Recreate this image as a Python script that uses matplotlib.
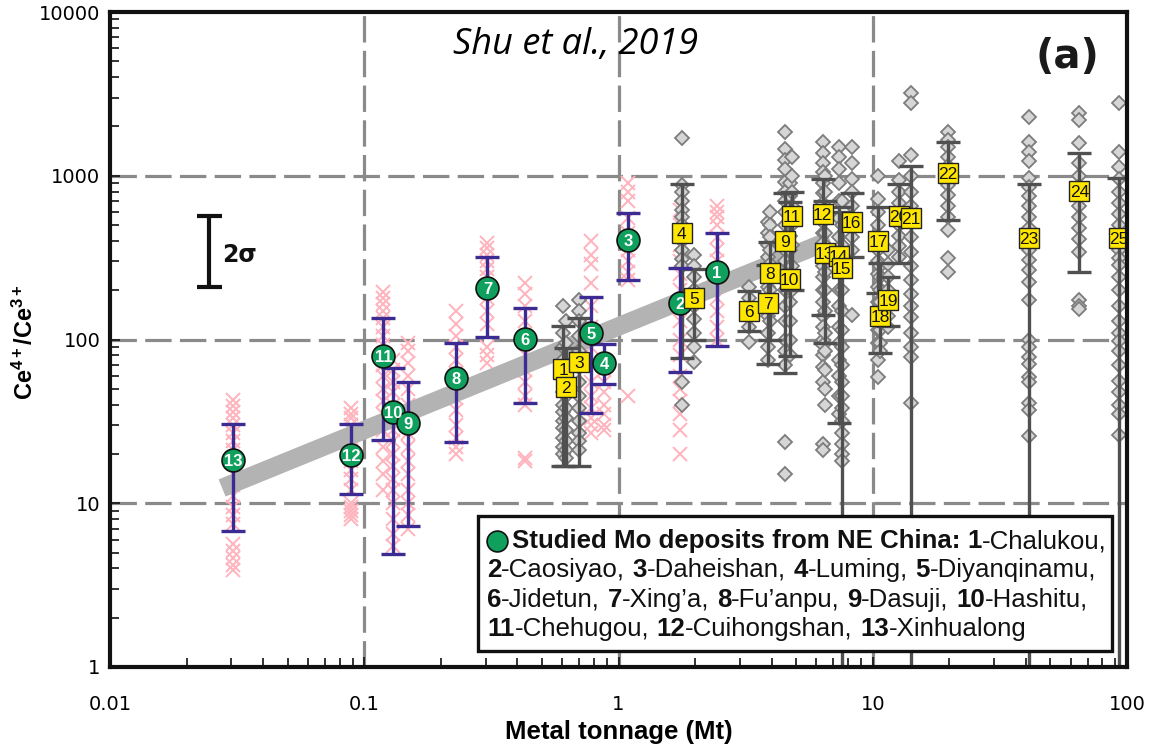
import matplotlib
matplotlib.use("Agg")
import numpy as np
import matplotlib.pyplot as plt
from matplotlib.transforms import IdentityTransform
from matplotlib.patches import Rectangle
from matplotlib.lines import Line2D

plt.rcParams['lines.scale_dashes'] = False
plt.rcParams['mathtext.fontset'] = 'custom'
plt.rcParams['mathtext.rm'] = 'Liberation Sans:bold'
plt.rcParams['mathtext.bf'] = 'Liberation Sans:bold'
plt.rcParams['mathtext.it'] = 'Liberation Sans:bold'
plt.rcParams['mathtext.default'] = 'bf'

# ---------------- studied Mo deposits, NE China (green) ----------------
ne_ids = [13, 12, 11, 10, 9, 8, 7, 6, 5, 4, 3, 2, 1]
ne_tonnage = [0.0305, 0.089, 0.119, 0.130, 0.149, 0.230, 0.305, 0.43, 0.78, 0.88, 1.09, 1.75, 2.43]
ne_mean = [18.5, 19.7, 79, 36, 31, 58, 206, 101, 109, 72, 405, 167, 258]
ne_low = [6.8, 11.4, 24.3, 4.9, 7.3, 23.7, 104, 41, 35.6, 53.5, 231, 63, 91]
ne_high = [30.5, 30.5, 135, 67, 55, 95, 319, 155, 182, 94, 593, 273, 447]

# individual zircon analyses per studied deposit
ne_s13 = [43, 39, 36, 33, 30, 27, 24, 21, 18, 15, 13, 11, 9.5, 8.5, 7.5, 5.6, 5.1, 4.6, 4.2, 3.9]
ne_s12 = [38, 35, 33, 30, 28, 25, 22, 20, 18, 16, 14, 12, 10, 9.5, 9, 8.5, 8]
ne_s11 = [195, 180, 165, 150, 135, 120, 105, 92, 80, 70, 60, 50, 42, 35, 28, 22, 18, 15, 12]
ne_s10 = [75, 65, 55, 48, 40, 34, 28, 24, 20, 17, 14, 12, 10, 8, 6.5, 5.5]
ne_s9 = [95, 85, 72, 60, 50, 40, 33, 27, 22, 18, 15, 12, 10, 8.5, 7]
ne_s8 = [150, 125, 105, 90, 75, 62, 52, 44, 37, 30, 25, 22, 20]
ne_s7 = [390, 360, 330, 300, 270, 240, 210, 180, 150, 125, 90, 80, 72]
ne_s6 = [220, 190, 160, 130, 100, 80, 65, 55, 45, 40, 19, 18]
ne_s5 = [400, 330, 290, 220, 160, 120, 90, 70, 55, 45, 38, 33, 30, 27]
ne_s4 = [65, 55, 48, 40, 35, 30, 28]
ne_s3 = [900, 800, 700, 550, 450, 350, 300, 260, 230, 45]
ne_s2 = [620, 500, 380, 300, 250, 200, 160, 130, 100, 80, 60, 50, 42, 35, 28, 20]
ne_s1 = [650, 600, 560, 500, 420, 350, 300, 260, 220, 180, 150, 120, 100]
ne_samples = [ne_s13, ne_s12, ne_s11, ne_s10, ne_s9, ne_s8, ne_s7,
              ne_s6, ne_s5, ne_s4, ne_s3, ne_s2, ne_s1]

# ---------------- reference porphyry Mo deposits (yellow) ----------------
ref_ids = list(range(1, 26))
ref_tonnage = [0.607, 0.62, 0.70, 1.77, 1.99, 3.25, 3.86, 3.96, 4.5, 4.71, 4.8, 6.35, 6.47,
               7.35, 7.55, 8.26, 10.5, 10.7, 11.5, 12.7, 14.1, 19.7, 41, 65, 93]
ref_mean = [66, 51, 73, 447, 179, 149, 167, 255, 400, 234, 568, 584, 337,
            324, 273, 522, 399, 139, 174, 568, 552, 1040, 417, 807, 417]
ref_low = [17, 17, 17, 77, 100, 113, 71, 100, 62, 79, 200, 141, 95,
           31, 0.3, 318, 192, 83, 121, 293, 0.3, 537, 0.3, 258, 0.3]
ref_high = [121, 89, 136, 890, 270, 198, 285, 394, 785, 690, 800, 955, 700,
            645, 600, 785, 645, 293, 241, 890, 1150, 1600, 890, 1380, 970]

ref_s1 = [160, 110, 90, 75, 60, 48, 40, 36, 32, 29, 25, 22, 20]
ref_s2 = [130, 95, 70, 55, 45, 38, 33, 28, 24, 21, 19]
ref_s3 = [175, 150, 130, 105, 85, 68, 55, 45, 38, 32, 27, 24, 21]
ref_s4 = [1700, 880, 800, 700, 620, 560, 500, 450, 400, 350, 310, 280, 55, 40]
ref_s5 = [330, 280, 240, 200, 160, 134, 110, 90, 73]
ref_s6 = [210, 180, 150, 120, 96]
ref_s7 = [520, 450, 380, 320, 260, 210, 170, 140, 110, 90, 75]
ref_s8 = [600, 500, 420, 350, 290, 240, 200, 160, 130]
ref_s9 = [1850, 1450, 1250, 1100, 920, 800, 700, 600, 500, 420, 350, 300, 250, 200,
          160, 130, 100, 85, 70, 23.5, 15]
ref_s10 = [900, 750, 620, 520, 430, 350, 280, 220, 170, 130, 100, 80]
ref_s11 = [1300, 1000, 800, 650, 500, 380, 280, 200]
ref_s12 = [1600, 1380, 1200, 1050, 900, 780, 680, 600, 520, 450, 390, 330, 280, 240,
           200, 170, 140, 119, 100, 92, 80, 68, 55, 23, 21]
ref_s13 = [1000, 800, 600, 450, 350, 260, 200, 150, 110, 85, 65, 50, 40]
ref_s14 = [1500, 1300, 1100, 900, 700, 550, 420, 330, 260, 200, 160, 120, 95, 75, 60, 45, 35]
ref_s15 = [700, 500, 380, 270, 200, 150, 115, 90, 70, 55, 45, 38, 32, 27, 23, 20, 18]
ref_s16 = [1500, 1200, 950, 800, 650, 520, 420, 350, 141]
ref_s17 = [1000, 720, 600, 500, 420, 350, 300, 250, 210, 170, 140, 115, 95, 75, 59]
ref_s18 = [280, 240, 200, 170, 140, 115, 95, 85]
ref_s19 = [350, 290, 240, 200, 170, 140, 120]
ref_s20 = [1230, 940, 800, 680, 580, 500, 430, 370, 320]
ref_s21 = [3200, 2800, 1340, 1000, 800, 650, 520, 420, 340, 280, 230, 190, 160, 137,
           110, 90, 78, 41]
ref_s22 = [1850, 1650, 1500, 1300, 1150, 1000, 880, 760, 650, 560, 465, 315, 258]
ref_s23 = [2270, 1600, 1400, 1230, 970, 850, 750, 650, 560, 480, 410, 350, 305, 265,
           225, 175, 99, 90, 78, 71, 59, 55, 41, 37, 25.6]
ref_s24 = [2400, 2200, 1580, 1200, 1000, 870, 750, 650, 560, 480, 410, 340, 175, 160, 154]
ref_s25 = [2780, 1400, 1130, 950, 800, 680, 580, 500, 420, 350, 315, 285, 240, 200,
           160, 130, 110, 98, 85, 70, 56, 48, 40, 35, 26]
ref_samples = [ref_s1, ref_s2, ref_s3, ref_s4, ref_s5, ref_s6, ref_s7, ref_s8, ref_s9,
               ref_s10, ref_s11, ref_s12, ref_s13, ref_s14, ref_s15, ref_s16, ref_s17,
               ref_s18, ref_s19, ref_s20, ref_s21, ref_s22, ref_s23, ref_s24, ref_s25]

# regression trend (gray band) end points
trend_x = [0.0276, 6.8]
trend_y = [12.4, 404]

# analytical uncertainty bar (2 sigma)
sigma_x = 0.0246
sigma_range = [209, 568]

x_ticks = [0.01, 0.1, 1, 10, 100]
x_ticklabels = ['0.01', '0.1', '1', '10', '100']
y_ticks = [1, 10, 100, 1000, 10000]
y_ticklabels = ['1', '10', '100', '1000', '10000']

legend_title = "Studied Mo deposits from NE China:"
legend_names = ["Chalukou", "Caosiyao", "Daheishan", "Luming", "Diyanqinamu",
                "Jidetun", "Xing\u2019a", "Fu\u2019anpu", "Dasuji", "Hashitu",
                "Chehugou", "Cuihongshan", "Xinhualong"]

# ---------------- figure ----------------
W, H = 1158, 746
fig = plt.figure(figsize=(W / 100, H / 100), dpi=100)
ax = fig.add_axes([110 / W, 79 / H, 1017 / W, 655 / H])
ax.set_xscale('log')
ax.set_yscale('log')
ax.set_xlim(0.01, 100)
ax.set_ylim(1, 10000)

grid_kw = dict(color='#8a8a8a', lw=2.3, linestyle=(0, (19, 6)), zorder=1)
for gx in [0.1, 1, 10]:
    ax.axvline(gx, **grid_kw)
for gy in [10, 100, 1000]:
    ax.axhline(gy, **grid_kw)

pink = '#ffb3bd'
for x, s in zip(ne_tonnage, ne_samples):
    ax.plot([x] * len(s), s, 'x', ms=9.5, mew=1.4, color=pink, zorder=2)

ax.plot(trend_x, trend_y, color='#b3b3b3', lw=13.3, solid_capstyle='butt', zorder=3)

for x, s in zip(ref_tonnage, ref_samples):
    ax.plot([x] * len(s), s, 'D', ms=7, mfc='#d6d6d6', mec='#7c7c7c', mew=1.3, zorder=4)

for x, m, lo, hi in zip(ref_tonnage, ref_mean, ref_low, ref_high):
    ax.errorbar([x], [m], yerr=[[m - lo], [hi - m]], fmt='none', ecolor='#505050',
                elinewidth=2.4, capsize=8.5, capthick=2.4, zorder=5)

for x, m, lo, hi in zip(ne_tonnage, ne_mean, ne_low, ne_high):
    ax.errorbar([x], [m], yerr=[[m - lo], [hi - m]], fmt='none', ecolor='#3d2b94',
                elinewidth=2.4, capsize=8.5, capthick=2.4, zorder=6)

ax.plot(ne_tonnage, ne_mean, 'o', ms=16.5, mfc='#10a05e', mec='#111111', mew=1.2, zorder=7)
for i, x, m in zip(ne_ids, ne_tonnage, ne_mean):
    ax.text(x, m, str(i), color='white', fontsize=12, fontweight='bold',
            family='Liberation Sans', ha='center', va='center_baseline', zorder=8)

for k, (i, x, m) in enumerate(zip(ref_ids, ref_tonnage, ref_mean)):
    ax.plot([x], [m], 's', ms=14.4, mfc='#ffe600', mec='#222222', mew=1.0, zorder=9 + 0.01 * k)
    ax.text(x, m, str(i), color='#111111', fontsize=12.5, family='Liberation Sans',
            ha='center', va='center_baseline', zorder=9.005 + 0.01 * k, clip_on=True)

# 2 sigma bar
sm = np.sqrt(sigma_range[0] * sigma_range[1])
ax.errorbar([sigma_x], [sm], yerr=[[sm - sigma_range[0]], [sigma_range[1] - sm]],
            fmt='none', ecolor='#111111', elinewidth=3, capsize=9, capthick=3, zorder=6)
ax.text(0.0322, 330, '2\u03c3', fontsize=17, fontweight='bold', family='DejaVu Sans',
        ha='center', va='center', color='#111111')

# annotations
ax.text(0.458, 0.9496, 'Shu et al., 2019', transform=ax.transAxes, fontsize=26,
        family='Open Sans', style='italic', ha='center', va='center', color='black')
ax.text(0.941, 0.931, '(a)', transform=ax.transAxes, fontsize=29, fontweight='bold',
        family='DejaVu Sans', ha='center', va='center', color='#1a1a1a')

# axes styling
for sp in ax.spines.values():
    sp.set_linewidth(3)
    sp.set_color('#111111')
    sp.set_zorder(20)
ax.set_xticks(x_ticks, labels=x_ticklabels)
ax.set_yticks(y_ticks, labels=y_ticklabels)
ax.tick_params(which='both', direction='in', top=False, right=False, width=1.2,
               color='#111111')
ax.tick_params(which='major', length=7)
ax.tick_params(which='minor', length=6.5)
ax.tick_params(axis='x', which='major', pad=20, labelsize=14)
ax.tick_params(axis='y', which='major', pad=7, labelsize=14)
for lab in ax.get_xticklabels() + ax.get_yticklabels():
    lab.set_family('DejaVu Sans')
ax.yaxis.set_minor_formatter(plt.NullFormatter())
ax.xaxis.set_minor_formatter(plt.NullFormatter())

ax.set_xlabel('Metal tonnage (Mt)', fontsize=18.5, fontweight='bold', family='Liberation Sans')
ax.xaxis.set_label_coords(0.5, -0.081)
ax.set_ylabel('Ce$^{4+}$/Ce$^{3+}$', fontsize=17, fontweight='bold', family='Liberation Sans')
ax.yaxis.set_label_coords(-0.071, 0.496)

# legend box
box = Rectangle((478, H - 651), 634, 135, transform=IdentityTransform(), fc='white',
                ec='#111111', lw=2.4, zorder=30)
fig.add_artist(box)
fig.add_artist(Line2D([497], [H - 541], marker='o', ms=15, mfc='#10a05e', mec='#111111',
                      mew=1.2, linestyle='none', transform=IdentityTransform(), zorder=31))

renderer = fig.canvas.get_renderer()
LSIZE = 18.6


def text_width(s, bold):
    t = fig.text(0, 0, s, fontsize=LSIZE, family='Liberation Sans',
                 fontweight='bold' if bold else 'normal')
    w = t.get_window_extent(renderer).width
    t.remove()
    return w


space_w = text_width('x x', False) - text_width('xx', False)


def put_runs(x0, y0, runs):
    x = x0
    for s, bold in runs:
        if s == ' ':
            x += space_w
            continue
        t = fig.text(x, y0, s, transform=IdentityTransform(), fontsize=LSIZE,
                     family='Liberation Sans', fontweight='bold' if bold else 'normal',
                     ha='left', va='baseline', color='#111111', zorder=32)
        x += t.get_window_extent(renderer).width


def entry(n, last=False):
    return [(str(n), True), ('-' + legend_names[n - 1] + ('' if last else ','), False)]


SP = [(' ', False)]
lines = [
    (512, [(legend_title, True)] + SP + entry(1)),
    (487, entry(2) + SP + entry(3) + SP + entry(4) + SP + entry(5)),
    (487, entry(6) + SP + entry(7) + SP + entry(8) + SP + entry(9) + SP + entry(10)),
    (487, entry(11) + SP + entry(12) + SP + entry(13, last=True)),
]
baselines = [548, 577, 607, 636]
for (x0, runs), b in zip(lines, baselines):
    put_runs(x0, H - b, runs)

fig.savefig('out.png', dpi=100)
